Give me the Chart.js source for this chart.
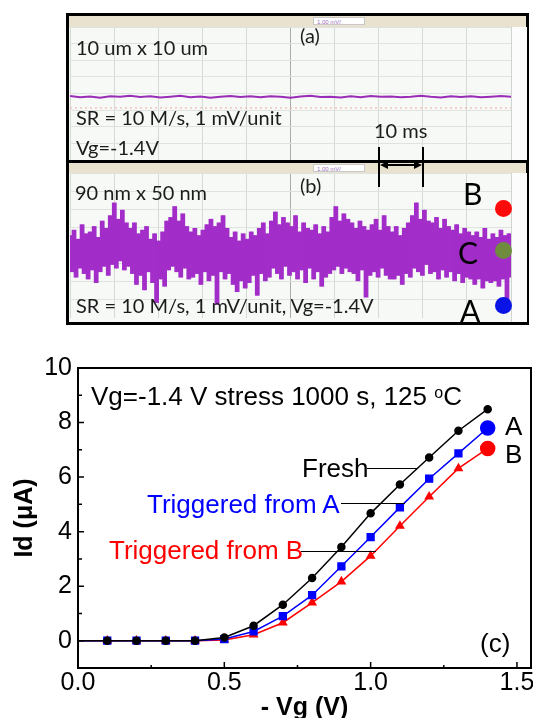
<!DOCTYPE html>
<html>
<head>
<meta charset="utf-8">
<script src="https://cdn.jsdelivr.net/npm/chart.js@4.4.0/dist/chart.umd.min.js"></script>
<style>
body{margin:0;width:533px;height:718px;overflow:hidden;background:#fff;position:relative}
.abs{position:absolute}
.scopeTxt{position:absolute;font-family:Lato,"Open Sans",sans-serif;color:#1c1c1c;white-space:nowrap;line-height:20px;font-size:20px}
.big{position:absolute;font-family:Lato,"Open Sans",sans-serif;color:#000;font-size:30px;line-height:30px}
.dot{position:absolute;width:17px;height:17px;border-radius:50%}
.ann{position:absolute;font-family:Arial,"Liberation Sans",sans-serif;font-size:26px;line-height:26px;white-space:nowrap}
.lead{position:absolute;height:1px;background:#000}
</style>
</head>
<body>

<!-- oscilloscope frame -->
<div class="abs" style="left:66px;top:13px;width:457px;height:306px;border:3px solid #000;background:#f6f9f6"></div>
<div class="abs" style="left:69px;top:16px;width:457px;height:11px;background:#e9e2cf"></div>
<div class="abs" style="left:69px;top:160px;width:457px;height:3px;background:#000"></div>
<div class="abs" style="left:69px;top:163px;width:457px;height:10px;background:#e9e2cf"></div>
<div class="abs" style="left:511px;top:27px;width:15px;height:133px;background:#fbfcfb;border-left:1px solid #d0d4d0"></div>
<div class="abs" style="left:511px;top:173px;width:15px;height:149px;background:#fbfcfb;border-left:1px solid #d0d4d0"></div>
<div class="abs" style="left:313px;top:17px;width:52px;height:8px;background:#fff;border:1px solid #c8c8c8;font:6px Arial,sans-serif;color:#a070c0;line-height:8px;padding-left:3px;box-sizing:border-box">1.00 mV/</div>
<div class="abs" style="left:313px;top:164px;width:52px;height:8px;background:#fff;border:1px solid #c8c8c8;font:6px Arial,sans-serif;color:#a070c0;line-height:8px;padding-left:3px;box-sizing:border-box">1.00 mV/</div>

<canvas id="scopeA" class="abs" width="441" height="133" style="left:70px;top:27px"></canvas>
<canvas id="scopeB" class="abs" width="441" height="145" style="left:70px;top:173px"></canvas>

<div class="scopeTxt" style="left:76px;top:37px">10 um x 10 um</div>
<div class="scopeTxt" style="left:300px;top:25px">(a)</div>
<div class="scopeTxt" style="left:76px;top:107px">SR = 10 M/s, 1 mV/unit</div>
<div class="scopeTxt" style="left:76px;top:137px">Vg=-1.4V</div>
<div class="scopeTxt" style="left:374px;top:120px">10 ms</div>
<div class="scopeTxt" style="left:75px;top:182px">90 nm x 50 nm</div>
<div class="scopeTxt" style="left:300px;top:175px">(b)</div>
<div class="scopeTxt" style="left:76px;top:295px">SR = 10 M/s, 1 mV/unit, Vg=-1.4V</div>

<div class="big" style="left:463px;top:178px">B</div>
<div class="big" style="left:458px;top:237px">C</div>
<div class="big" style="left:460px;top:295px">A</div>
<div class="dot" style="left:495px;top:200px;background:#ff0a0a"></div>
<div class="dot" style="left:495px;top:242px;background:#6f8c3e"></div>
<div class="dot" style="left:495px;top:297px;background:#0a14e6"></div>

<svg class="abs" style="left:370px;top:140px" width="60" height="55">
  <line x1="9" y1="7" x2="9" y2="47" stroke="#000" stroke-width="2"/>
  <line x1="53" y1="7" x2="53" y2="47" stroke="#000" stroke-width="2"/>
  <line x1="14" y1="25" x2="48" y2="25" stroke="#000" stroke-width="2"/>
  <polygon points="10,25 18,21 18,29" fill="#000"/>
  <polygon points="52,25 44,21 44,29" fill="#000"/>
</svg>

<!-- Id-Vg chart -->
<canvas id="idvg" class="abs" width="533" height="378" style="left:0;top:340px"></canvas>

<div class="ann" style="left:91px;top:380px;color:#000">Vg=-1.4 V stress 1000 s, 125 <sup style="font-size:16px;vertical-align:7px">o</sup>C</div>
<div class="ann" style="left:302px;top:455px;color:#000">Fresh</div>
<div class="lead" style="left:367px;top:468px;width:51px"></div>
<div class="ann" style="left:147px;top:491px;color:#0000ff">Triggered from A</div>
<div class="lead" style="left:341px;top:503px;width:64px"></div>
<div class="ann" style="left:109px;top:537px;color:#ff0000">Triggered from B</div>
<div class="lead" style="left:301px;top:551px;width:75px"></div>
<div class="ann" style="left:505px;top:413px;color:#000">A</div>
<div class="ann" style="left:505px;top:441px;color:#000">B</div>
<div class="ann" style="left:480px;top:630px;color:#000">(c)</div>

<script>
// scope traces, mV per sample (1 mV/unit)
const traceSmall = [-0.15,-0.22,-0.18,-0.25,-0.16,-0.2,-0.13,-0.21,-0.17,-0.24,-0.19,-0.14,-0.22,-0.18,-0.26,
  -0.2,-0.15,-0.21,-0.17,-0.23,-0.16,-0.2,-0.25,-0.18,-0.14,-0.21,-0.19,-0.24,-0.17,-0.22,
  -0.15,-0.2,-0.18,-0.23,-0.19,-0.13,-0.2,-0.24,-0.17,-0.21,-0.16,-0.22,-0.19,-0.15,-0.2];
const refLevel = -0.87;

const traceRTN = [
  0.8,-1.2,1.1,-1.5,0.6,-1.0,1.4,-1.3,0.9,-1.6,
  1.0,-1.1,1.3,-1.8,0.7,-1.2,1.6,-0.9,1.2,-1.4,
  1.9,-0.8,2.6,-1.0,1.7,-0.6,2.2,-1.1,1.5,-0.9,
  1.2,-1.3,1.5,-1.9,0.9,-1.4,1.1,-2.2,1.3,-1.2,
  0.6,-1.8,0.9,-2.9,0.5,-1.6,1.0,-2.0,1.6,-1.1,
  1.8,-0.9,2.4,-1.2,1.6,-1.5,2.0,-1.0,1.3,-1.6,
  1.0,-1.5,1.2,-1.3,0.8,-1.9,1.1,-1.2,1.4,-1.7,
  1.7,-1.4,1.3,-3.0,1.5,-1.2,1.9,-1.6,1.2,-1.3,
  0.7,-1.9,1.0,-2.3,0.5,-1.7,0.9,-2.1,0.6,-1.8,
  1.0,-1.4,0.8,-2.5,1.2,-1.3,1.5,-1.7,0.9,-1.5,
  1.6,-1.0,2.1,-1.3,1.4,-1.6,1.8,-0.9,1.5,-1.4,
  1.3,-1.2,1.9,-1.6,1.0,-1.1,1.5,-1.8,1.2,-1.0,
  1.1,-1.6,1.4,-1.2,0.9,-2.0,1.3,-1.5,1.0,-1.3,
  1.8,-1.1,2.4,-0.9,1.6,-1.3,2.0,-1.0,1.7,-1.2,
  1.5,-1.3,1.2,-1.7,1.6,-1.1,1.3,-2.6,1.1,-1.4,
  1.4,-1.2,1.7,-1.5,1.1,-1.0,1.9,-1.4,1.3,-1.6,
  1.0,-1.6,1.3,-1.4,0.8,-1.9,1.2,-1.3,1.5,-1.5,
  1.9,-1.0,2.6,-1.2,1.7,-1.4,2.2,-0.8,1.6,-1.3,
  1.5,-1.2,1.8,-1.6,1.2,-1.1,1.7,-1.5,1.3,-1.2,
  1.1,-1.7,1.4,-1.3,0.9,-1.8,1.2,-1.5,1.0,-1.6,
  0.8,-1.9,1.0,-1.6,0.7,-2.1,1.2,-1.7,0.6,-1.8,
  0.9,-1.7,0.7,-2.0,1.1,-1.6,0.8,-2.7,0.9,-1.5
];

// Id-Vg data
const vg = [0,0.1,0.2,0.3,0.4,0.5,0.6,0.7,0.8,0.9,1.0,1.1,1.2,1.3,1.4];
const idFresh = [0,0,0,0,0,0.12,0.55,1.32,2.30,3.44,4.67,5.73,6.72,7.70,8.49];
const idFromA = [0,0,0,0,0,0.06,0.34,0.90,1.67,2.73,3.80,4.89,5.94,6.87,7.80];
const idFromB = [0,0,0,0,0,0.03,0.22,0.66,1.40,2.17,3.11,4.21,5.28,6.32,7.05];
const xTicks = [0,0.5,1.0,1.5];
const yTicks = [0,2,4,6,8,10];

const SPAN_MS = 100;
const tOf = (i, n) => i*SPAN_MS/(n-1);
function toPoints(arr){
  return arr.map((v,i)=>({x:tOf(i,arr.length), y:v}));
}
// envelope of each segment between consecutive samples (what a dense scope trace paints)
function toEnvelope(arr){
  return arr.slice(1).map((v,i)=>({x:tOf(i+0.5,arr.length), y:[Math.min(v,arr[i]), Math.max(v,arr[i])]}));
}
// 8 vertical divisions, screen centre at `mid`
function scopeChart(id, datasets, mid){
  return new Chart(document.getElementById(id), {
    type:'line',
    data:{datasets},
    options:{
      responsive:false, animation:false, events:[],
      layout:{padding:0, autoPadding:false},
      plugins:{legend:{display:false}, tooltip:{enabled:false}},
      elements:{point:{radius:0}, line:{tension:0}},
      scales:{
        x:{type:'linear', min:0, max:SPAN_MS, offset:false,
           ticks:{display:false, stepSize:10},
           grid:{offset:false, color:c=>c.tick.value===50?'#a8aca8':'#d5dad5', drawTicks:false},
           border:{display:false}},
        y:{min:mid-4, max:mid+4,
           afterBuildTicks:s=>{s.ticks=[0,1,2,3,4,5,6,7,8].map(k=>({value:mid-4+k}));},
           ticks:{display:false},
           grid:{color:'#dfe3df', drawTicks:false},
           border:{display:false}}
      }
    }
  });
}

scopeChart('scopeA', [
  {data:[{x:0,y:refLevel},{x:SPAN_MS,y:refLevel}], borderColor:'#f2a8a8', borderWidth:1, borderDash:[2,3]},
  {data:toPoints(traceSmall), borderColor:'#9a2db8', borderWidth:2}
], 0);
scopeChart('scopeB', [
  {type:'bar', data:toEnvelope(traceRTN), backgroundColor:'#a22dc8', borderWidth:0, barThickness:2.1}
], 0.25);

const frameTicks = {
  id:'frameTicks',
  afterDatasetsDraw(chart){
    const {ctx, chartArea:a, scales:{x,y}} = chart;
    ctx.save();
    ctx.strokeStyle='#000';
    ctx.lineWidth=2;
    ctx.strokeRect(a.left, a.top, a.right-a.left, a.bottom-a.top);
    ctx.lineWidth=1.5;
    ctx.beginPath();
    for(let k=1; k*0.25<x.max; k++){
      const px=x.getPixelForValue(k*0.25);
      ctx.moveTo(px,a.bottom); ctx.lineTo(px,a.bottom-(k%2===0?6:3));
    }
    for(let v=y.min+1; v<y.max; v+=1){
      const py=y.getPixelForValue(v);
      ctx.moveTo(a.left,py); ctx.lineTo(a.left+(v%2===0?6:4),py);
    }
    ctx.stroke();
    ctx.restore();
  }
};

const tickFont = {family:'Arial, "Liberation Sans", sans-serif', size:25};
const titleFont = {family:'Arial, "Liberation Sans", sans-serif', size:25, weight:'bold', lineHeight:0.8};

new Chart(document.getElementById('idvg'), {
  type:'line',
  data:{
    labels:vg,
    datasets:[
      {label:'Fresh', data:idFresh.map((v,i)=>({x:vg[i],y:v})), borderColor:'#000', backgroundColor:'#000',
       borderWidth:1.5, pointStyle:'circle', pointRadius:idFresh.map((v,i)=>i===0?0:3.5)},
      {label:'Triggered from A', data:idFromA.map((v,i)=>({x:vg[i],y:v})), borderColor:'#0000ff', backgroundColor:'#0000ff',
       borderWidth:1.5, pointStyle:idFromA.map((v,i)=>i===idFromA.length-1?'circle':'rect'),
       pointRadius:idFromA.map((v,i)=>i===0?0:(i===idFromA.length-1?7:4.8))},
      {label:'Triggered from B', data:idFromB.map((v,i)=>({x:vg[i],y:v})), borderColor:'#ff0000', backgroundColor:'#ff0000',
       borderWidth:1.5, pointStyle:idFromB.map((v,i)=>i===idFromB.length-1?'circle':'triangle'),
       pointRadius:idFromB.map((v,i)=>i===0?0:(i===idFromB.length-1?7:4.2))}
    ]
  },
  options:{
    responsive:false, animation:false, events:[],
    layout:{padding:{top:28,left:0,right:2,bottom:0}, autoPadding:false},
    plugins:{legend:{display:false}, tooltip:{enabled:false}},
    elements:{line:{tension:0}, point:{borderWidth:0}},
    scales:{
      x:{type:'linear', min:0, max:1.548,
         afterBuildTicks:s=>{s.ticks=xTicks.map(v=>({value:v}));},
         afterFit:s=>{s.height=50; s.paddingLeft=0; s.paddingRight=0;},
         ticks:{font:tickFont, color:'#000', padding:0, maxRotation:0, callback:v=>v.toFixed(1)},
         grid:{display:false, drawTicks:false, tickLength:0},
         border:{display:true, color:'#000', width:2},
         title:{display:true, text:'- Vg (V)', font:titleFont, color:'#000', padding:{top:0,bottom:0}}},
      y:{min:-1, max:10,
         afterBuildTicks:s=>{s.ticks=yTicks.map(v=>({value:v}));},
         afterFit:s=>{s.width=78; s.paddingTop=0; s.paddingBottom=0;},
         ticks:{font:tickFont, color:'#000', padding:6},
         grid:{display:false, drawTicks:false, tickLength:0},
         border:{display:true, color:'#000', width:2},
         title:{display:true, text:'Id (\u03bcA)', font:titleFont, color:'#000', padding:{top:15,bottom:0}}}
    }
  },
  plugins:[frameTicks]
});
</script>
</body>
</html>
